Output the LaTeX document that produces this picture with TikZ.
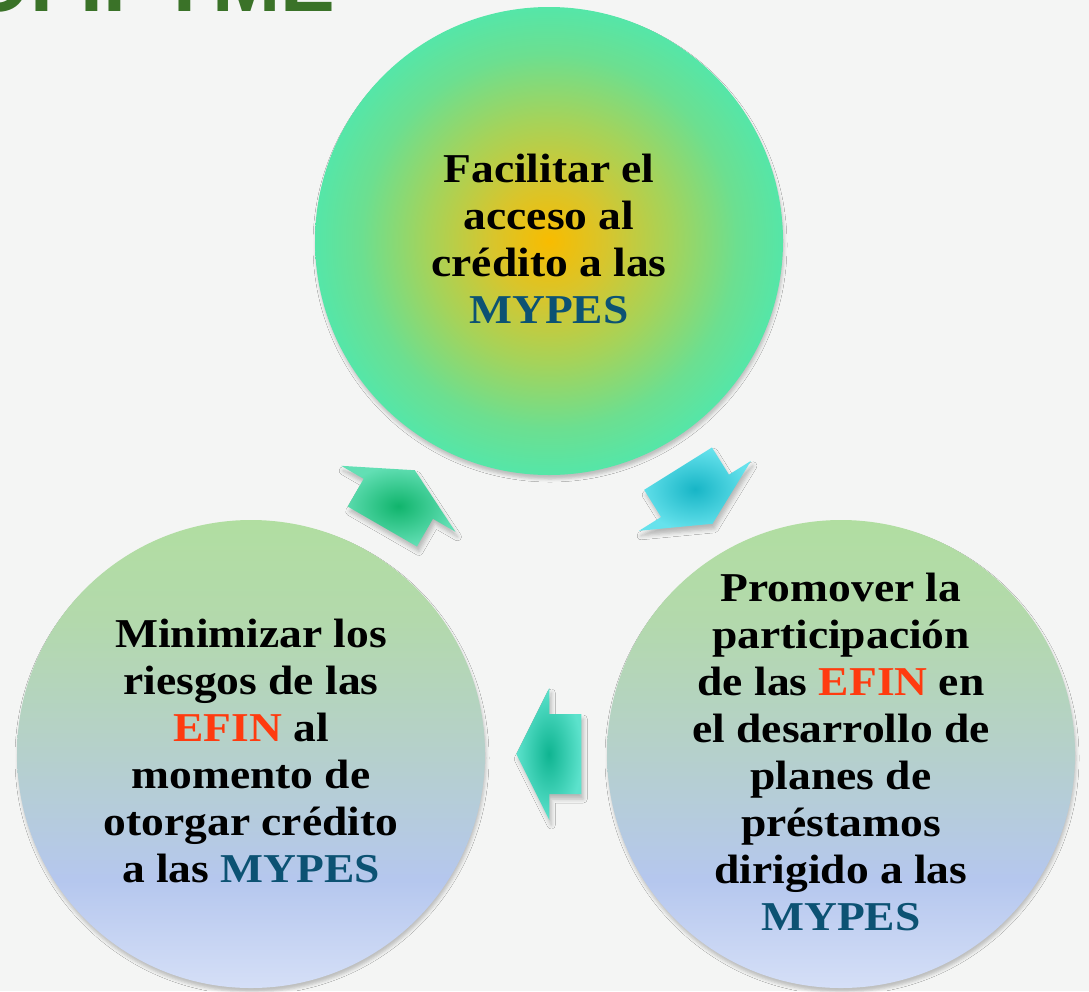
\documentclass[tikz,border=0pt]{standalone}
\usepackage{fontspec}
\setmainfont[FakeStretch=1.11]{Liberation Serif}
\newfontfamily\titlefont{Liberation Sans}
\usepackage{tikz}
\usetikzlibrary{positioning, shadows.blur}

\definecolor{mypesblue}{HTML}{0C5273}
\definecolor{efinred}{HTML}{FF3B0F}
\definecolor{titlegreen}{HTML}{3A7228}
\definecolor{pagegrey}{HTML}{F4F5F4}
\definecolor{glow0}{HTML}{F8BC00}
\definecolor{glow1}{HTML}{D8C52C}
\definecolor{glow2}{HTML}{A5D35A}
\definecolor{glow3}{HTML}{6CDF90}
\definecolor{glow4}{HTML}{55E6A8}
\definecolor{fade0}{HTML}{B1DEA1}
\definecolor{fade1}{HTML}{B3D9AC}
\definecolor{fade2}{HTML}{B5D1C8}
\definecolor{fade3}{HTML}{B5C7EE}
\definecolor{fade4}{HTML}{D5DFF7}
\definecolor{arrGreenIn}{HTML}{10B46C}
\definecolor{arrGreenOut}{HTML}{62DFB4}
\definecolor{arrCyanIn}{HTML}{17B5C6}
\definecolor{arrCyanOut}{HTML}{66E2EC}
\definecolor{arrTealIn}{HTML}{0FB491}
\definecolor{arrTealOut}{HTML}{5CE2CC}

\pgfdeclareradialshading{topglow}{\pgfpoint{0bp}{0bp}}{color(0bp)=(glow0); color(6bp)=(glow1); color(13bp)=(glow2); color(20bp)=(glow3); color(25bp)=(glow4); color(50bp)=(glow4)}
\pgfdeclareverticalshading{lowfade}{100bp}{color(0bp)=(fade4); color(25bp)=(fade4); color(36.5bp)=(fade3); color(51.5bp)=(fade2); color(64.3bp)=(fade1); color(75bp)=(fade0); color(100bp)=(fade0)}

\newcommand{\mypes}{\textcolor{mypesblue}{MYPES}}
\newcommand{\efin}{\textcolor{efinred}{EFIN}}

\tikzset{
cyclearrow/.pic={
\shade[#1] (33,0) -- (0,66) -- (0,40) -- (-32,40) -- (-32,-40) -- (0,-40) -- (0,-66) -- cycle;
}
}

\begin{document}
\begin{tikzpicture}[x=1pt, y=-1pt,
goal circle/.style={
circle,
shade,
minimum size=468pt,
inner sep=0pt,
blur shadow={shadow xshift=1pt, shadow yshift=-4pt, shadow blur radius=3pt, shadow opacity=22}
},
top goal/.style={goal circle, shading=topglow},
low goal/.style={goal circle, shading=lowfade},
goal text/.style={
align=center,
inner sep=0pt,
font=\bfseries\fontsize{41}{47}\selectfont
},
arrow shadow/.style={blur shadow={shadow xshift=2pt, shadow yshift=-5pt, shadow blur radius=4pt, shadow opacity=25}},
arrow green/.style={inner color=arrGreenIn, outer color=arrGreenOut, arrow shadow},
arrow cyan/.style={inner color=arrCyanIn, outer color=arrCyanOut, arrow shadow},
arrow teal/.style={inner color=arrTealIn, outer color=arrTealOut, arrow shadow}
]

\useasboundingbox (0,0) rectangle (1089,991);
\fill[pagegrey] (0,0) rectangle (1089,991);

\node[font=\titlefont\bfseries\fontsize{82}{82}\selectfont, text=titlegreen,
      anchor=base west, inner sep=0pt] (title) at (-93,11) {COFIPYME};

\node[top goal] (gTop) at (549,241) {};
\node[low goal] (gLeft) at (251,754) {};
\node[low goal] (gRight) at (841,754) {};

\node[goal text] (tTop) at ([yshift=2pt]gTop.center) {Facilitar el\\acceso al\\crédito a las\\\mypes};
\node[goal text] (tLeft) at ([yshift=3pt]gLeft.center) {Minimizar los\\riesgos de las\\\efin{} al\\momento de\\otorgar crédito\\a las \mypes};
\node[goal text] (tRight) at ([yshift=2pt]gRight.center) {Promover la\\participación\\de las \efin{} en\\el desarrollo de\\planes de\\préstamos\\dirigido a las\\\mypes};

\pic[rotate=-58] at (695,495.8) {cyclearrow=arrow cyan};
\pic[rotate=180] at (549.3,754) {cyclearrow=arrow teal};
\pic[rotate=60] at (398.3,498.8) {cyclearrow=arrow green};

\end{tikzpicture}
\end{document}
